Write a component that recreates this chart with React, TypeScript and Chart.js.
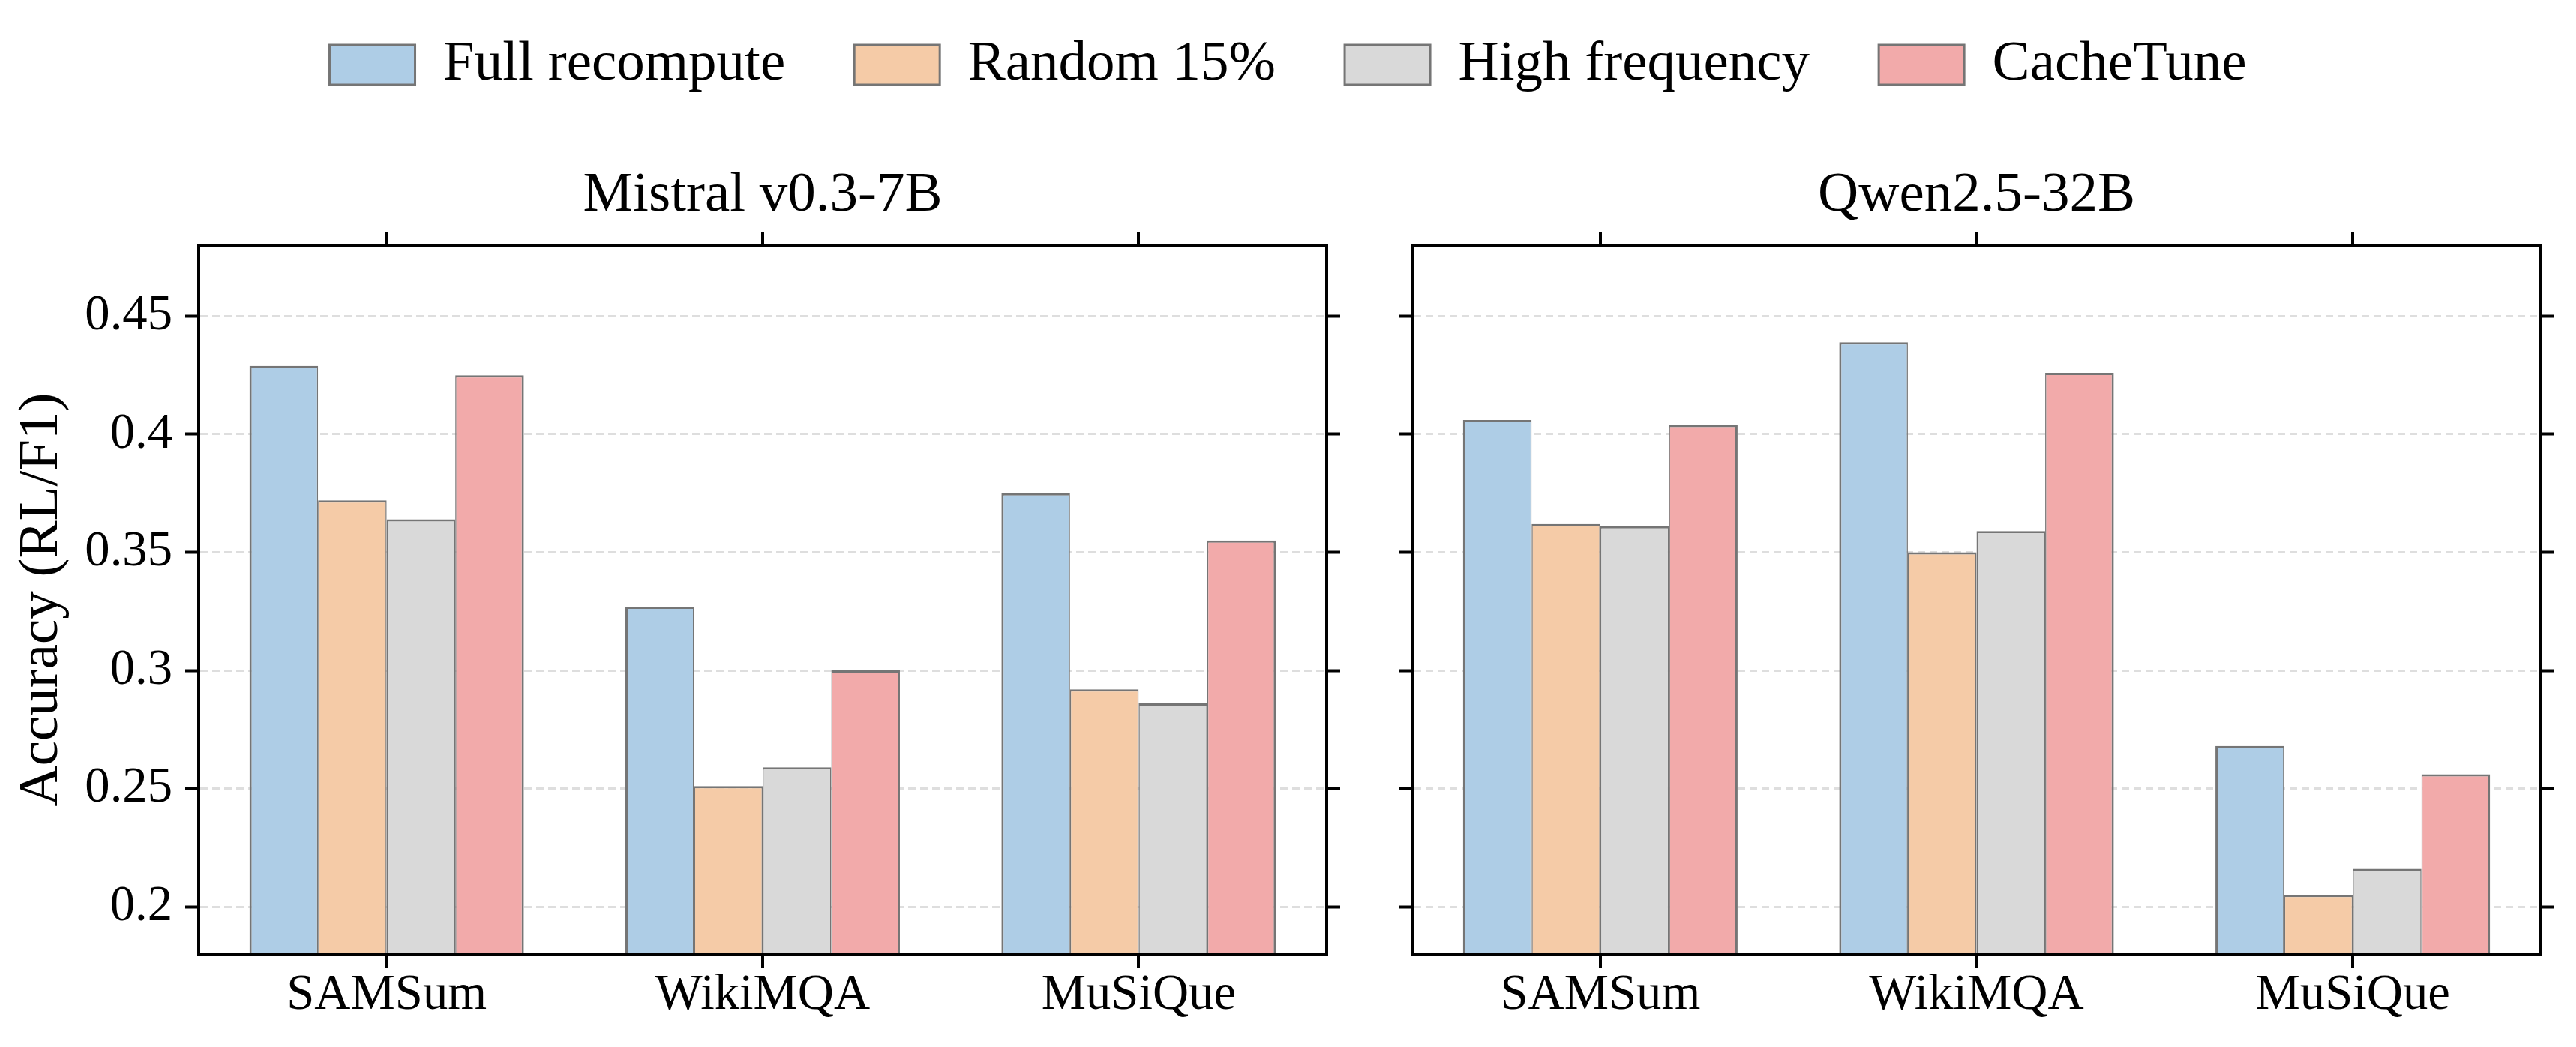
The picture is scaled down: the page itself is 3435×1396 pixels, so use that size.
import React, { useEffect, useRef } from "react";
import { Chart, registerables } from "chart.js";

Chart.register(...registerables);

// ---------------- data ----------------
const categories = ["SAMSum", "WikiMQA", "MuSiQue"];
const seriesNames = ["Full recompute", "Random 15%", "High frequency", "CacheTune"];
const seriesColors = ["#aecde6", "#f5cba7", "#d9d9d9", "#f2aaaa"];

const mistralFull = [0.429, 0.327, 0.375];
const mistralRandom = [0.372, 0.251, 0.292];
const mistralHighFreq = [0.364, 0.259, 0.286];
const mistralCacheTune = [0.425, 0.3, 0.355];

const qwenFull = [0.406, 0.439, 0.268];
const qwenRandom = [0.362, 0.35, 0.205];
const qwenHighFreq = [0.361, 0.359, 0.216];
const qwenCacheTune = [0.404, 0.426, 0.256];

const yTicks = [0.2, 0.25, 0.3, 0.35, 0.4, 0.45];
const yMin = 0.18;
const yMax = 0.48;

const panelTitles = ["Mistral v0.3-7B", "Qwen2.5-32B"];
const yAxisTitle = "Accuracy (RL/F1)";

// ---------------- styles ----------------
const FONT = "'Liberation Serif', 'Times New Roman', Times, serif";
const EDGE = "#757575";
const GRID = "#dedede";
const TICK_FONT = { family: FONT, size: 66.7, lineHeight: 1 };
const BIG_FONT = { family: FONT, size: 75, lineHeight: 1 };
const FIG_W = 3435;
const FIG_H = 1396;

Chart.defaults.font.family = FONT;
Chart.defaults.color = "#000";

function yScale(position: "left" | "right", showLabels: boolean, axisWidth: number, withTitle: boolean) {
  return {
    type: "linear",
    position,
    min: yMin,
    max: yMax,
    afterBuildTicks: (s: any) => {
      s.ticks = yTicks.map((v) => ({ value: v }));
    },
    afterFit: (s: any) => {
      s.width = axisWidth;
    },
    ticks: {
      display: showLabels,
      padding: 17,
      color: "#000",
      font: TICK_FONT,
      callback: (v: any) => String(Number(Number(v).toFixed(2))),
    },
    grid: {
      display: true,
      drawOnChartArea: position === "left",
      color: GRID,
      lineWidth: 3,
      drawTicks: true,
      tickLength: 18,
      tickWidth: 4,
      tickColor: "#000",
    },
    border: { display: true, color: "#000", width: 4, dash: [10, 6], z: 1 },
    title: withTitle
      ? {
          display: true,
          text: yAxisTitle,
          color: "#000",
          font: BIG_FONT,
          padding: { top: 19, bottom: 0 },
        }
      : { display: false },
  };
}

function xScale(position: "top" | "bottom", height: number) {
  return {
    type: "category",
    labels: categories,
    position,
    offset: true,
    afterFit: (s: any) => {
      s.height = height;
    },
    grid: {
      offset: false,
      drawOnChartArea: false,
      drawTicks: true,
      tickLength: 18,
      tickWidth: 4,
      tickColor: "#000",
      lineWidth: 4,
      color: "#000",
    },
    border: { display: true, color: "#000", width: 4, z: 1 },
    ticks: {
      display: position === "bottom",
      padding: 4,
      color: "#000",
      font: TICK_FONT,
      maxRotation: 0,
      autoSkip: false,
    },
  };
}

type PanelProps = {
  title: string;
  values: number[][];
  left: number;
  width: number;
  leftAxisWidth: number;
  rightAxisWidth: number;
  showYLabels: boolean;
};

function Panel({ title, values, left, width, leftAxisWidth, rightAxisWidth, showYLabels }: PanelProps) {
  const ref = useRef<HTMLCanvasElement | null>(null);
  useEffect(() => {
    if (!ref.current) return;
    const n = seriesNames.length;
    const chart = new Chart(ref.current, {
      type: "bar",
      data: {
        labels: categories,
        datasets: seriesNames.map((name, i) => ({
          label: name,
          data: values[i],
          backgroundColor: seriesColors[i],
          borderColor: EDGE,
          borderWidth: {
            top: 3,
            left: i === 0 ? 3 : 1.5,
            right: i === n - 1 ? 3 : 1.5,
            bottom: 0,
          },
          borderSkipped: false,
          categoryPercentage: 0.73,
          barPercentage: 1.0,
        })),
      },
      options: {
        responsive: false,
        maintainAspectRatio: false,
        animation: false,
        layout: { padding: 0 },
        scales: {
          x: xScale("bottom", FIG_H - 1272),
          x2: xScale("top", 18),
          y: yScale("left", showYLabels, leftAxisWidth, showYLabels),
          y2: yScale("right", false, rightAxisWidth, false),
        } as any,
        plugins: {
          legend: { display: false },
          tooltip: { enabled: false },
          title: {
            display: true,
            text: title,
            color: "#000",
            fullSize: false,
            font: { ...BIG_FONT, weight: "normal" },
            padding: { top: 224, bottom: 10 },
          },
        },
      } as any,
    });
    return () => chart.destroy();
  }, []);
  return (
    <canvas
      ref={ref}
      width={width}
      height={FIG_H}
      style={{ position: "absolute", left, top: 0, width, height: FIG_H }}
    />
  );
}

function Legend() {
  const ref = useRef<HTMLCanvasElement | null>(null);
  useEffect(() => {
    if (!ref.current) return;
    const chart = new Chart(ref.current, {
      type: "bar",
      data: {
        labels: [],
        datasets: seriesNames.map((name, i) => ({
          label: name,
          data: [],
          backgroundColor: seriesColors[i],
          borderColor: EDGE,
          borderWidth: 3,
        })),
      },
      options: {
        responsive: false,
        maintainAspectRatio: false,
        animation: false,
        layout: { padding: 0 },
        scales: { x: { display: false }, y: { display: false } },
        plugins: {
          tooltip: { enabled: false },
          legend: {
            display: true,
            position: "top",
            align: "center",
            labels: {
              boxWidth: 114,
              boxHeight: 53,
              padding: 92,
              color: "#000",
              font: BIG_FONT,
            },
          },
        },
      } as any,
    });
    return () => chart.destroy();
  }, []);
  return (
    <canvas
      ref={ref}
      width={FIG_W}
      height={400}
      style={{ position: "absolute", left: 0, top: -43, width: FIG_W, height: 400 }}
    />
  );
}

export default function App() {
  useEffect(() => {
    document.body.style.margin = "0";
    document.body.style.overflow = "hidden";
  }, []);
  return (
    <div
      style={{
        position: "relative",
        width: FIG_W,
        height: FIG_H,
        background: "#fff",
        overflow: "hidden",
      }}
    >
      <Panel
        title={panelTitles[0]}
        values={[mistralFull, mistralRandom, mistralHighFreq, mistralCacheTune]}
        left={0}
        width={1826}
        leftAxisWidth={265}
        rightAxisWidth={57}
        showYLabels={true}
      />
      <Panel
        title={panelTitles[1]}
        values={[qwenFull, qwenRandom, qwenHighFreq, qwenCacheTune]}
        left={1826}
        width={FIG_W - 1826}
        leftAxisWidth={57}
        rightAxisWidth={47}
        showYLabels={false}
      />
      <Legend />
    </div>
  );
}
